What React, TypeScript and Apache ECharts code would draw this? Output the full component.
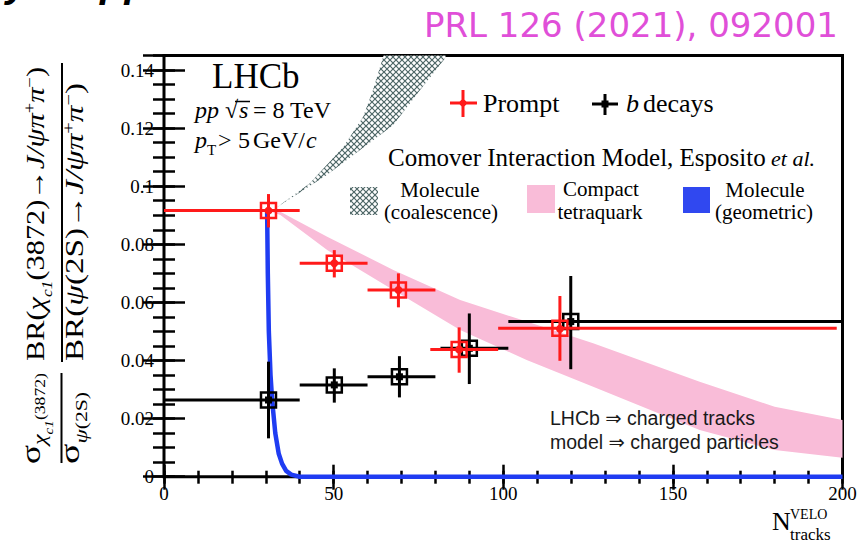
import React, { useEffect, useRef } from "react";
import * as echarts from "echarts";

// ---- measured ratios ----
// Prompt production
const promptX = [30.8, 50.2, 69.1, 87.0, 116.7];
const promptY = [0.0916, 0.0735, 0.0643, 0.0438, 0.0511];
const promptXLow = [0, 40, 60, 78.5, 98.5];
const promptXHigh = [40, 60, 80, 98.5, 198.3];
const promptYLow = [0.0858, 0.0686, 0.0583, 0.0358, 0.0399];
const promptYHigh = [0.0973, 0.078, 0.07, 0.0514, 0.0622];

// b-hadron decays
const bX = [30.8, 50.2, 69.4, 90.0, 119.9];
const bY = [0.0264, 0.0316, 0.0344, 0.0442, 0.0534];
const bXLow = [0, 40, 60, 81.5, 101.5];
const bXHigh = [40, 60, 80, 101.5, 200];
const bYLow = [0.0132, 0.0255, 0.0273, 0.0319, 0.037];
const bYHigh = [0.0396, 0.0373, 0.0415, 0.0562, 0.0691];

// ---- comover interaction model ----
// compact tetraquark band
const tetraX = [31, 34.3, 48.1, 67.6, 87.3, 106.9, 126.5, 157.9, 180, 200];
const tetraUpper = [0.0918, 0.0912, 0.0826, 0.0712, 0.0608, 0.0534, 0.0459, 0.0327, 0.0241, 0.0195];
const tetraLower = [0.0914, 0.0901, 0.078, 0.0643, 0.0505, 0.0402, 0.031, 0.0161, 0.0092, 0.0065];

// molecule (coalescence) band, upper-left and lower-right edges
const coalUpperX = [32, 34.2, 43.0, 52.9, 58.7, 61.6, 64.6, 66.5];
const coalUpperY = [0.0918, 0.0935, 0.101, 0.1136, 0.1239, 0.1331, 0.1446, 0.151];
const coalLowerX = [32, 38.1, 48.0, 57.8, 67.6, 75.5, 82.8, 85];
const coalLowerY = [0.0918, 0.0964, 0.1039, 0.1125, 0.1211, 0.1331, 0.144, 0.151];

// molecule (geometric) curve
const geoX = [30.4, 30.6, 30.9, 31.4, 31.9, 32.8, 33.8, 34.8, 36.0, 37.5, 40, 200];
const geoY = [0.0915, 0.07, 0.05, 0.035, 0.026, 0.015, 0.008, 0.0045, 0.002, 0.0007, 0, 0];

// axes
const X_MIN = 0;
const X_MAX = 200;
const X_MAJOR = 50;
const X_MINOR = 10;
const Y_MIN = 0;
const Y_MAX = 0.145;
const Y_MAJOR = 0.02;
const Y_MINOR = 0.005;

const SERIF = "'Liberation Serif', 'Times New Roman', serif";
const SANS = "'Liberation Sans', 'DejaVu Sans', sans-serif";
const DEJAVU = "'DejaVu Sans', sans-serif";

const RED = "#ff1a1a";
const BLACK = "#000000";
const PINK = "#f9bcd8";
const BLUE = "#1f3cf2";
const HATCH = "#4d6666";

function centralOffset(family: string) {
  if (family === DEJAVU) return 0.346;
  if (family === SANS) return 0.3465;
  return 0.3375;
}

type TOpt = { italic?: boolean; bold?: boolean; family?: string; color?: string; align?: string };

// horizontal text placed by its baseline
function txt(x: number, baseline: number, text: string, fs: number, o: TOpt = {}) {
  const fam = o.family || SERIF;
  return {
    type: "text",
    x,
    y: baseline - centralOffset(fam) * fs,
    z: 100,
    style: {
      text,
      fontSize: fs,
      fontFamily: fam,
      fontStyle: o.italic ? "italic" : "normal",
      fontWeight: o.bold ? "bold" : "normal",
      fill: o.color || "#000",
      align: o.align || "left",
      verticalAlign: "middle",
    },
  };
}

type Piece = { t: string; fs: number; it?: boolean; dy?: number };

let measureCtx: CanvasRenderingContext2D | null = null;
function measure(p: Piece) {
  if (!measureCtx) measureCtx = document.createElement("canvas").getContext("2d");
  measureCtx!.font = `${p.it ? "italic " : ""}${p.fs}px ${SERIF}`;
  return measureCtx!.measureText(p.t).width;
}

// one line of the rotated y title, reading bottom to top from yStart to yEnd,
// with its baseline at screen x = baseline
function rotLine(pieces: Piece[], yStart: number, yEnd: number, baseline: number) {
  const widths = pieces.map(measure);
  const total = widths.reduce((a, b) => a + b, 0);
  const sx = (yStart - yEnd) / total;
  let cum = 0;
  const children = pieces.map((p, i) => {
    const el = {
      type: "text",
      x: cum,
      y: baseline + (p.dy || 0) - centralOffset(SERIF) * p.fs,
      z: 100,
      style: {
        text: p.t,
        fontSize: p.fs,
        fontFamily: SERIF,
        fontStyle: p.it ? "italic" : "normal",
        fill: "#000",
        align: "left",
        verticalAlign: "middle",
      },
    };
    cum += widths[i];
    return el;
  });
  return { type: "group", x: 0, y: yStart, rotation: Math.PI / 2, scaleX: sx, scaleY: 1, z: 100, children };
}

function hline(x1: number, x2: number, y: number, color: string, w: number) {
  return { type: "line", z: 100, shape: { x1, y1: y, x2, y2: y }, style: { stroke: color, lineWidth: w } };
}
function vline(x: number, y1: number, y2: number, color: string, w: number) {
  return { type: "line", z: 100, shape: { x1: x, y1, x2: x, y2 }, style: { stroke: color, lineWidth: w } };
}

function makeHatch() {
  const n = 6;
  const cv = document.createElement("canvas");
  cv.width = n;
  cv.height = n;
  const ctx = cv.getContext("2d")!;
  ctx.fillStyle = "#ffffff";
  ctx.fillRect(0, 0, n, n);
  ctx.strokeStyle = HATCH;
  ctx.lineWidth = 1.2;
  ctx.beginPath();
  ctx.moveTo(0, 0);
  ctx.lineTo(n, n);
  ctx.moveTo(n, 0);
  ctx.lineTo(0, n);
  ctx.stroke();
  return { image: cv, repeat: "repeat", imageWidth: n, imageHeight: n };
}

function xAxisDef(position: string, interval: number, len: number, labels: boolean) {
  return {
    type: "value",
    position,
    min: X_MIN,
    max: X_MAX,
    interval,
    axisLine: { show: false },
    splitLine: { show: false },
    axisTick: { show: true, inside: true, length: len, lineStyle: { color: "#000", width: 2.5 } },
    axisLabel: {
      show: labels,
      margin: 7,
      fontSize: 19,
      fontFamily: SERIF,
      color: "#000",
    },
  };
}

function yAxisDef(position: string, interval: number, len: number, labels: boolean) {
  return {
    type: "value",
    position,
    min: Y_MIN,
    max: Y_MAX,
    interval,
    axisLine: { show: false },
    splitLine: { show: false },
    axisTick: { show: true, inside: true, length: len, lineStyle: { color: "#000", width: 2.5 } },
    axisLabel: {
      show: labels,
      margin: 10,
      fontSize: 19,
      fontFamily: SERIF,
      color: "#000",
      showMaxLabel: false,
    },
  };
}

function errBarRenderer(color: string, centre: "dot" | "square") {
  return (params: any, api: any) => {
    const x = api.value(0);
    const y = api.value(1);
    const c = api.coord([x, y]);
    const l = api.coord([api.value(2), y]);
    const r = api.coord([api.value(3), y]);
    const lo = api.coord([x, api.value(4)]);
    const hi = api.coord([x, api.value(5)]);
    const s = 15;
    const mark =
      centre === "dot"
        ? { type: "circle", shape: { cx: c[0], cy: c[1], r: 4 }, style: { fill: color } }
        : { type: "rect", shape: { x: c[0] - 3.5, y: c[1] - 3.5, width: 7, height: 7 }, style: { fill: color } };
    return {
      type: "group",
      children: [
        { type: "line", shape: { x1: l[0], y1: c[1], x2: r[0], y2: c[1] }, style: { stroke: color, lineWidth: 3 } },
        { type: "line", shape: { x1: c[0], y1: hi[1], x2: c[0], y2: lo[1] }, style: { stroke: color, lineWidth: 3 } },
        {
          type: "rect",
          shape: { x: c[0] - s / 2, y: c[1] - s / 2, width: s, height: s },
          style: { fill: "none", stroke: color, lineWidth: 2.5 },
        },
        mark,
      ],
    };
  };
}

export default function App() {
  const ref = useRef<HTMLDivElement>(null);

  useEffect(() => {
    if (!ref.current) return;
    const chart = echarts.init(ref.current, null, { renderer: "svg" });
    const hatch = makeHatch();

    const promptData = promptX.map((x, i) => [x, promptY[i], promptXLow[i], promptXHigh[i], promptYLow[i], promptYHigh[i]]);
    const bData = bX.map((x, i) => [x, bY[i], bXLow[i], bXHigh[i], bYLow[i], bYHigh[i]]);
    const geoData = geoX.map((x, i) => [x, geoY[i]]);

    // rotated y-axis title: cross-section ratio times branching-fraction ratio
    const sigmaNum = rotLine(
      [
        { t: "σ", fs: 28 },
        { t: "χ", fs: 19, it: true, dy: 6 },
        { t: "c1", fs: 12, it: true, dy: 13 },
        { t: "(3872)", fs: 14, dy: 5 },
      ],
      464, 373, 40
    );
    const sigmaDen = rotLine(
      [
        { t: "σ", fs: 28 },
        { t: "ψ", fs: 17, it: true, dy: 8 },
        { t: "(2S)", fs: 16, dy: 8 },
      ],
      464, 392, 79
    );
    const brNum = rotLine(
      [
        { t: "BR(", fs: 26 },
        { t: "χ", fs: 26, it: true, dy: 1 },
        { t: "c1", fs: 15, it: true, dy: 8 },
        { t: "(3872)", fs: 26 },
        { t: "→", fs: 26 },
        { t: "J/ψ", fs: 26, it: true },
        { t: "π", fs: 26, it: true },
        { t: "+", fs: 16, dy: -9 },
        { t: "π", fs: 26, it: true },
        { t: "−", fs: 16, dy: -9 },
        { t: ")", fs: 26 },
      ],
      361, 67, 44
    );
    const brDen = rotLine(
      [
        { t: "BR(", fs: 26 },
        { t: "ψ", fs: 26, it: true },
        { t: "(2S)", fs: 26 },
        { t: "→", fs: 26 },
        { t: "J/ψ", fs: 26, it: true },
        { t: "π", fs: 26, it: true },
        { t: "+", fs: 16, dy: -9 },
        { t: "π", fs: 26, it: true },
        { t: "−", fs: 16, dy: -9 },
        { t: ")", fs: 26 },
      ],
      361, 83, 83
    );

    const graphics: any[] = [
      // partially visible heading above the frame
      txt(28, -3.5, "y", 40, { family: SANS, italic: true, bold: true, align: "right" }),
      txt(100, -3.5, "pp", 40, { family: SANS, italic: true, bold: true }),
      // reference tag
      txt(838, 37, "PRL 126 (2021), 092001", 34, { family: DEJAVU, color: "#e04fd8", align: "right" }),
      // experiment label
      txt(212, 88, "LHCb", 35),
      txt(195, 118, "pp", 24, { italic: true }),
      txt(225, 118, "√", 24),
      txt(239, 118, "s", 24, { italic: true }),
      hline(235, 250, 101.5, "#000", 1.5),
      txt(253, 118, "= 8 TeV", 24),
      txt(195, 148, "p", 24, { italic: true }),
      txt(207, 155, "T", 15),
      txt(218, 148, ">", 24),
      txt(238, 148, "5", 24),
      txt(253, 148, "GeV/", 24),
      txt(306, 148, "c", 24, { italic: true }),
      // data legend
      hline(450, 477, 103, RED, 3),
      vline(463, 90, 117, RED, 3),
      { type: "circle", z: 100, shape: { cx: 463, cy: 103, r: 3.5 }, style: { fill: RED } },
      txt(483, 112, "Prompt", 26),
      hline(592, 618, 104, BLACK, 3),
      vline(605, 94, 115, BLACK, 3),
      { type: "rect", z: 100, shape: { x: 601.5, y: 100.5, width: 7, height: 7 }, style: { fill: BLACK } },
      txt(626, 112, "b", 26, { italic: true }),
      txt(643, 112, "decays", 26),
      // model legend
      txt(388, 166, "Comover Interaction Model, Esposito", 25),
      txt(771, 166, "et al.", 22, { italic: true }),
      { type: "rect", z: 100, shape: { x: 350, y: 187, width: 28, height: 28 }, style: { fill: hatch } },
      txt(440, 197, "Molecule", 21, { align: "center" }),
      txt(441, 219, "(coalescence)", 21, { align: "center" }),
      { type: "rect", z: 100, shape: { x: 527, y: 185, width: 28, height: 28 }, style: { fill: PINK } },
      txt(601, 196, "Compact", 21, { align: "center" }),
      txt(600, 219, "tetraquark", 21, { align: "center" }),
      { type: "rect", z: 100, shape: { x: 683, y: 187, width: 27, height: 26 }, style: { fill: "#3048f0" } },
      txt(765, 197, "Molecule", 21, { align: "center" }),
      txt(764, 219, "(geometric)", 21, { align: "center" }),
      // note on multiplicity definitions
      txt(550, 425, "LHCb ⇒ charged tracks", 19.5, { family: SANS, color: "#1a1a1a" }),
      txt(550, 449, "model ⇒ charged particles", 19.5, { family: SANS, color: "#1a1a1a" }),
      // x-axis title
      txt(772, 530, "N", 26),
      txt(790, 519, "VELO", 14),
      txt(790, 540, "tracks", 17),
      // y-axis title
      sigmaNum,
      sigmaDen,
      vline(61.5, 373, 463, "#000", 2),
      brNum,
      brDen,
      vline(62, 63, 362, "#000", 2),
    ];

    chart.setOption({
      animation: false,
      textStyle: { fontFamily: SERIF },
      grid: {
        left: 164,
        right: 18.5,
        top: 55.5,
        bottom: 68.3,
        show: true,
        borderColor: "#000",
        borderWidth: 3,
        backgroundColor: "transparent",
        containLabel: false,
        outerBoundsMode: "none",
      },
      xAxis: [
        xAxisDef("bottom", X_MAJOR, 12, true),
        xAxisDef("bottom", X_MINOR, 6, false),
        xAxisDef("top", X_MAJOR, 13, false),
        xAxisDef("top", X_MINOR, 7, false),
      ],
      yAxis: [
        yAxisDef("left", Y_MAJOR, 21, true),
        yAxisDef("left", Y_MINOR, 11, false),
        yAxisDef("right", Y_MAJOR, 21, false),
        yAxisDef("right", Y_MINOR, 11, false),
      ],
      series: [
        {
          name: "Compact tetraquark",
          type: "custom",
          clip: true,
          z: 1,
          data: [0],
          renderItem: (params: any, api: any) => {
            const top = tetraX.map((x, i) => api.coord([x, tetraUpper[i]]));
            const bottom = tetraX.map((x, i) => api.coord([x, tetraLower[i]])).reverse();
            return { type: "polygon", shape: { points: top.concat(bottom) }, style: { fill: PINK } };
          },
        },
        {
          name: "Molecule (coalescence)",
          type: "custom",
          clip: true,
          z: 2,
          data: [0],
          renderItem: (params: any, api: any) => {
            const left = coalUpperX.map((x, i) => api.coord([x, coalUpperY[i]]));
            const right = coalLowerX.map((x, i) => api.coord([x, coalLowerY[i]])).reverse();
            return { type: "polygon", shape: { points: left.concat(right) }, style: { fill: hatch } };
          },
        },
        {
          name: "Molecule (geometric)",
          type: "line",
          z: 3,
          clip: false,
          showSymbol: false,
          symbol: "none",
          data: geoData,
          lineStyle: { color: BLUE, width: 4.5 },
        },
        {
          name: "b decays",
          type: "custom",
          z: 4,
          clip: false,
          data: bData,
          encode: { x: 0, y: 1 },
          renderItem: errBarRenderer(BLACK, "square"),
        },
        {
          name: "Prompt",
          type: "custom",
          z: 5,
          clip: false,
          data: promptData,
          encode: { x: 0, y: 1 },
          renderItem: errBarRenderer(RED, "dot"),
        },
      ],
      graphic: { elements: graphics },
    });

    return () => {
      chart.dispose();
    };
  }, []);

  return (
    <div
      ref={ref}
      style={{ position: "absolute", left: 0, top: 0, width: 861, height: 545, background: "#fff" }}
    />
  );
}
